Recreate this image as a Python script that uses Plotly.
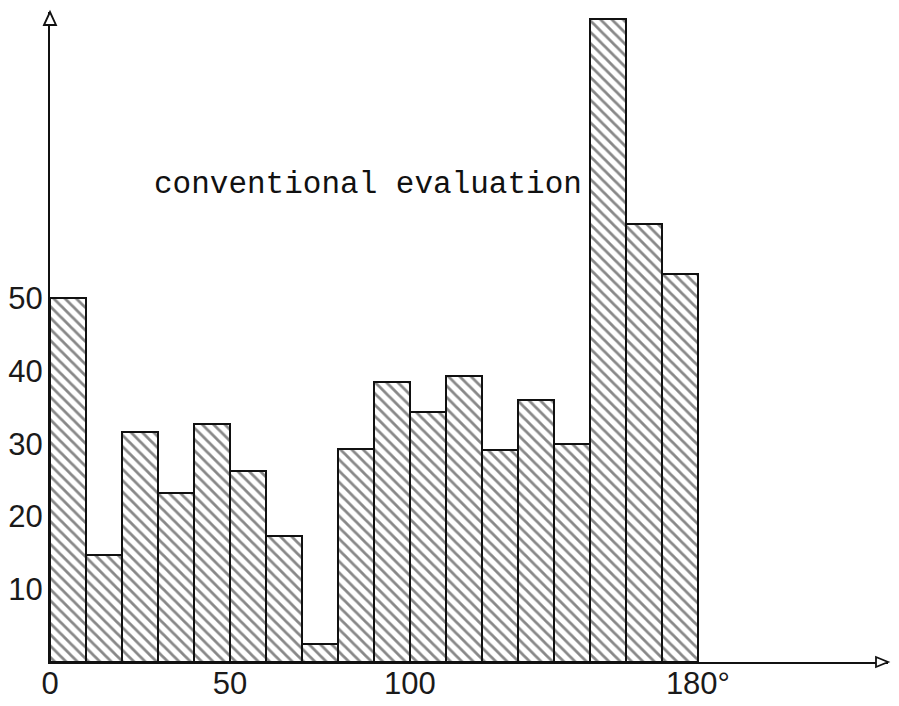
import plotly.graph_objects as go

# ---------------- data ----------------
bin_start = [0, 10, 20, 30, 40, 50, 60, 70, 80, 90,
             100, 110, 120, 130, 140, 150, 160, 170]
counts = [50, 14.7, 31.6, 23.3, 32.7, 26.3, 17.3, 2.5, 29.3, 38.5,
          34.4, 39.3, 29.1, 36.1, 30.0, 88.5, 60.3, 53.3]
bin_width = 10

x_tickvals = [0, 50, 100, 180]
x_ticktext = ["0", "50", "100", "180°"]
y_tickvals = [10, 20, 30, 40, 50]
y_ticktext = ["10", "20", "30", "40", "50"]

label = "conventional evaluation"

ink = "#111111"

# ---------------- figure ----------------
fig = go.Figure()

fig.add_trace(go.Bar(
    x=[b + bin_width / 2 for b in bin_start],
    y=counts,
    width=bin_width,
    marker=dict(
        color="white",
        line=dict(color=ink, width=2),
        pattern=dict(shape="\\", fgcolor=ink, bgcolor="white",
                     size=8, solidity=0.35),
    ),
    showlegend=False,
    hoverinfo="skip",
))

fig.add_annotation(
    x=28.2, y=65.7, xref="x", yref="y",
    text=label, showarrow=False,
    xanchor="left", yanchor="middle",
    font=dict(family="Liberation Mono, Courier New, monospace", size=31, color=ink),
)

# open arrow heads at the ends of both axes (paper refs so they are not clipped)
fig.add_shape(
    type="path", xref="paper", yref="paper",
    xsizemode="pixel", ysizemode="pixel",
    xanchor=0, yanchor=1,
    path="M -6,-13 L 0,0 L 6,-13 Z",
    line=dict(color=ink, width=1.8), fillcolor="white",
)
fig.add_shape(
    type="path", xref="paper", yref="paper",
    xsizemode="pixel", ysizemode="pixel",
    xanchor=1, yanchor=0,
    path="M -12,-5 L 0,0 L -12,5 Z",
    line=dict(color=ink, width=1.8), fillcolor="white",
)

# page body has an 8px margin, so the figure is a bit smaller than the window
fig.update_layout(
    width=891, height=698,
    margin=dict(l=42, r=11, t=4, b=44),
    paper_bgcolor="white",
    plot_bgcolor="white",
    bargap=0,
    font=dict(family="Liberation Sans, Arial, sans-serif", color="#1a1a1a"),
)

fig.update_xaxes(
    range=[0, 232.8], automargin=False,
    showgrid=False, zeroline=False,
    showline=True, linecolor=ink, linewidth=2,
    tickmode="array", tickvals=x_tickvals, ticktext=x_ticktext,
    ticks="", tickfont=dict(size=31), ticklabelstandoff=-7,
)
fig.update_yaxes(
    range=[0, 89.4], automargin=False,
    showgrid=False, zeroline=False,
    showline=True, linecolor=ink, linewidth=2,
    tickmode="array", tickvals=y_tickvals, ticktext=y_ticktext,
    ticks="", tickfont=dict(size=31), ticklabelstandoff=-1,
)

fig.write_html("out.html")
